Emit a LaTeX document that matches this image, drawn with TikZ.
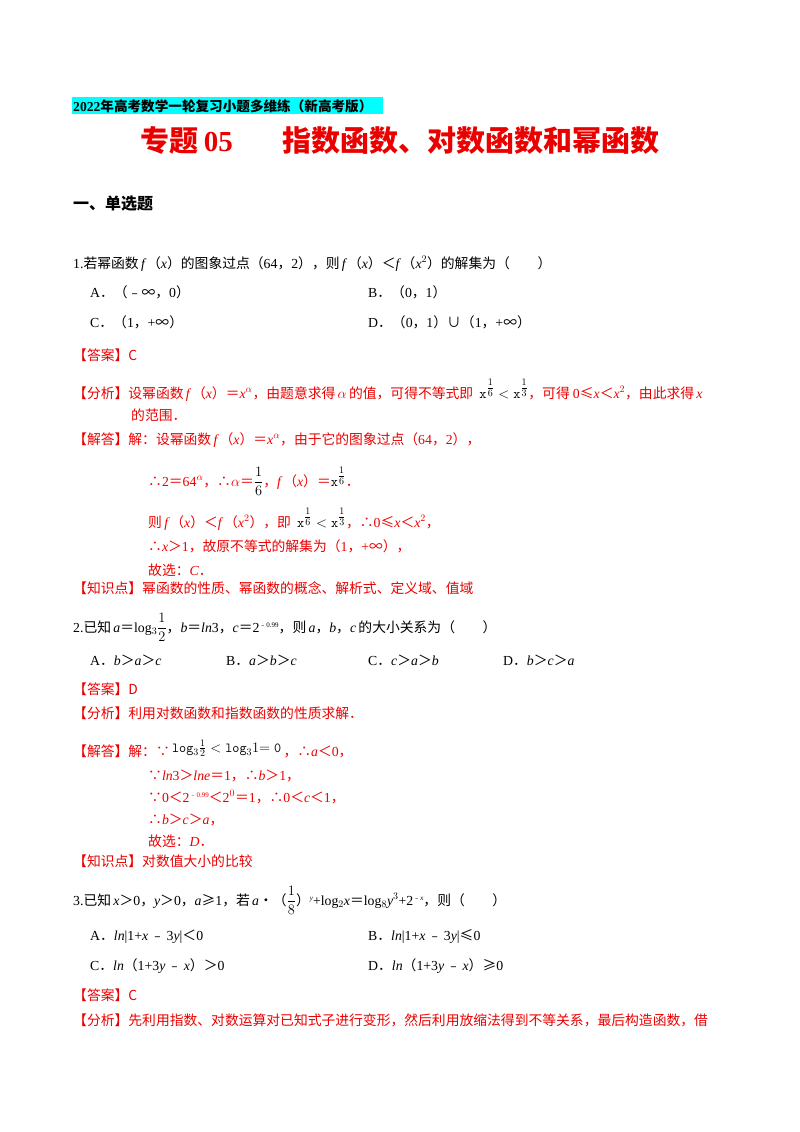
\documentclass[tikz,border=0pt]{standalone}
\usepackage{fontspec}
\setmainfont{Noto Sans CJK SC}
\newfontfamily\lat{Liberation Serif}
\newcommand\vv[1]{{\lat\itshape #1}}
\newcommand\nn[1]{{\lat #1}}
\newcommand\xp[1]{\mathtt{x}^{\textstyle\frac{1}{#1}}}
\newcommand\ex[1]{\raisebox{5pt}{\fontsize{7}{8}\selectfont #1}}
\definecolor{ans}{RGB}{235,0,0}
\definecolor{hl}{RGB}{0,255,255}
\begin{document}
\begin{tikzpicture}[x=1pt,y=-1pt,
  t/.style={anchor=base west,inner sep=0pt,font=\fontsize{13.8}{15}\selectfont},
  r/.style={t,text=ans}]
\useasboundingbox (0,0) rectangle (800,1132);
\fill[hl] (72,97) rectangle (383,114);
\node[t,font=\bfseries\fontsize{13.6}{15}\selectfont] (h) at (73,111) {\nn{\textbf{2022}}年高考数学一轮复习小题多维练（新高考版）};
\node[anchor=base,inner sep=0pt,text=ans,font=\bfseries\fontsize{29}{32}\selectfont] (ti) at (400,151) {专题\,\nn{\textbf{05}}\hspace{1.7em}指数函数、对数函数和幂函数};
\node[t,font=\bfseries\fontsize{16}{18}\selectfont] (s) at (73,209) {一、单选题};
% Q1
\node[t] (q1) at (73,268) {\nn{1.}若幂函数\,\vv{f}\,（\vv{x}）的图象过点（\nn{64}，\nn{2}），则\,\vv{f}\,（\vv{x}）＜\vv{f}\,（\vv{x}\nn{$^2$}）的解集为（\qquad ）};
\node[t] (a1) at (90,297) {\nn{A}．（﹣∞，\nn{0}）};
\node[t] (b1) at (368,297) {\nn{B}．（\nn{0}，\nn{1}）};
\node[t] (c1) at (90,327) {\nn{C}．（\nn{1}，\nn{+}∞）};
\node[t] (d1) at (368,327) {\nn{D}．（\nn{0}，\nn{1}）∪（\nn{1}，\nn{+}∞）};
\node[r] (k1) at (73,360) {【答案】C};
\node[r] (f1) at (73,398) {【分析】设幂函数\,\vv{f}\,（\vv{x}）＝\vv{x}$^{\alpha}$，由题意求得\,$\alpha$\,的值，可得不等式即\ \ \textcolor{black}{$\xp6<\xp3$}，可得\ \nn{0}≤\vv{x}＜\vv{x}\nn{$^2$}，由此求得\,\vv{x}};
\node[r] (f1b) at (131,420) {的范围．};
\node[r] (j1) at (73,444) {【解答】解：设幂函数\,\vv{f}\,（\vv{x}）＝\vv{x}$^{\alpha}$，由于它的图象过点（\nn{64}，\nn{2}），};
\node[r] (j1a) at (148,486) {∴\nn{2}＝\nn{64}$^{\alpha}$，∴$\alpha$＝\textcolor{black}{$\displaystyle\frac{1}{6}$}，\vv{f}\,（\vv{x}）＝\textcolor{black}{$\xp6$}．};
\node[r] (j1b) at (148,527) {则\,\vv{f}\,（\vv{x}）＜\vv{f}\,（\vv{x}\nn{$^2$}），即\ \ \textcolor{black}{$\xp6<\xp3$}，∴\nn{0}≤\vv{x}＜\vv{x}\nn{$^2$}，};
\node[r] (j1c) at (148,551) {∴\vv{x}＞\nn{1}，故原不等式的解集为（\nn{1}，\nn{+}∞），};
\node[r] (j1d) at (148,575) {故选：\vv{C}．};
\node[r] (z1) at (73,593) {【知识点】幂函数的性质、幂函数的概念、解析式、定义域、值域};
% Q2
\node[t] (q2) at (73,632) {\nn{2.}已知\,\vv{a}＝\nn{log$_3$}\textcolor{black}{$\displaystyle\frac{1}{2}$}，\vv{b}＝\vv{ln}\nn{3}，\vv{c}＝\nn{2}\ex{﹣\nn{0.99}}，则\,\vv{a}，\vv{b}，\vv{c}\,的大小关系为（\qquad ）};
\node[t] (a2) at (90,665) {\nn{A}．\vv{b}＞\vv{a}＞\vv{c}};
\node[t] (b2) at (226,665) {\nn{B}．\vv{a}＞\vv{b}＞\vv{c}};
\node[t] (c2) at (368,665) {\nn{C}．\vv{c}＞\vv{a}＞\vv{b}};
\node[t] (d2) at (503,665) {\nn{D}．\vv{b}＞\vv{c}＞\vv{a}};
\node[r] (k2) at (73,694) {【答案】D};
\node[r] (f2) at (73,718) {【分析】利用对数函数和指数函数的性质求解．};
\node[r] (j2) at (73,756) {【解答】解：∵\,\raisebox{4pt}{\textcolor{black}{$\mathtt{log}_3\frac12<\mathtt{log}_3 1\mathtt{=0}$}}\,，∴\vv{a}＜\nn{0}，};
\node[r] (j2a) at (148,780) {∵\vv{ln}\nn{3}＞\vv{lne}＝\nn{1}，∴\vv{b}＞\nn{1}，};
\node[r] (j2b) at (148,802) {∵\nn{0}＜\nn{2}\ex{﹣\nn{0.99}}＜\nn{2$^{0}$}＝\nn{1}，∴\nn{0}＜\vv{c}＜\nn{1}，};
\node[r] (j2c) at (148,824) {∴\vv{b}＞\vv{c}＞\vv{a}，};
\node[r] (j2d) at (148,846) {故选：\vv{D}．};
\node[r] (z2) at (73,866) {【知识点】对数值大小的比较};
% Q3
\node[t] (q3) at (73,905) {\nn{3.}已知\,\vv{x}＞\nn{0}，\vv{y}＞\nn{0}，\vv{a}≥\nn{1}，若\,\vv{a}•（\textcolor{black}{$\displaystyle\frac{1}{8}$}）\nn{\ex{\textit{y}}+log$_2$}\vv{x}＝\nn{log$_8$}\vv{y}\nn{$^3$+2}\ex{﹣\vv{x}}，则（\qquad ）};
\node[t] (a3) at (90,940) {\nn{A}．\vv{ln}\nn{|1+}\vv{x}\,﹣\,\nn{3}\vv{y}\nn{|}＜\nn{0}};
\node[t] (b3) at (368,940) {\nn{B}．\vv{ln}\nn{|1+}\vv{x}\,﹣\,\nn{3}\vv{y}\nn{|}≤\nn{0}};
\node[t] (c3) at (90,970) {\nn{C}．\vv{ln}（\nn{1+3}\vv{y}\,﹣\,\vv{x}）＞\nn{0}};
\node[t] (d3) at (368,970) {\nn{D}．\vv{ln}（\nn{1+3}\vv{y}\,﹣\,\vv{x}）≥\nn{0}};
\node[r] (k3) at (73,1000) {【答案】C};
\node[r] (f3) at (73,1025) {【分析】先利用指数、对数运算对已知式子进行变形，然后利用放缩法得到不等关系，最后构造函数，借};
\end{tikzpicture}
\end{document}
